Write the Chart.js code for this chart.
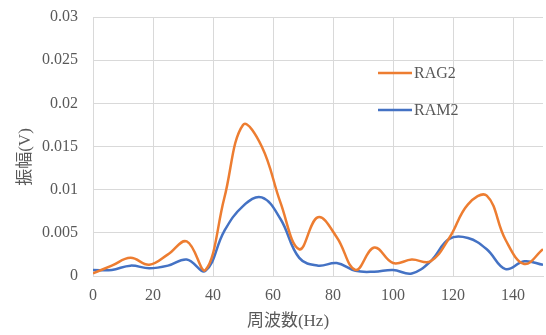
<!DOCTYPE html>
<html>
<head>
<meta charset="utf-8">
<script src="https://cdn.jsdelivr.net/npm/chart.js@4/dist/chart.umd.min.js"></script>
<style>
  html, body { margin: 0; padding: 0; background: #fff; }
  #wrap { width: 546px; height: 335px; }
</style>
</head>
<body>
<div id="wrap"><canvas id="myChart" width="546" height="335"></canvas></div>
<script>
// 周波数 (Hz)
const frecuencias = [0, 6.25, 12.5, 18.75, 25, 31.25, 37.5, 43.75, 50, 56.25, 62.5, 68.75, 75,
  81.25, 87.5, 93.75, 100, 106.25, 112.5, 118.75, 125, 131.25, 137.5, 143.75, 150];
const rag2 = [0.0003, 0.0012, 0.0021, 0.0013, 0.0025, 0.0040, 0.0007, 0.0090, 0.0175, 0.0150,
  0.0085, 0.0031, 0.0068, 0.0045, 0.0007, 0.0033, 0.0015, 0.0019, 0.0017, 0.0044, 0.0083,
  0.0093, 0.0042, 0.0014, 0.0031];
const ram2 = [0.0007, 0.0007, 0.0012, 0.0009, 0.0012, 0.0019, 0.0006, 0.0052, 0.0081, 0.0091,
  0.0066, 0.0021, 0.0012, 0.0015, 0.0006, 0.0005, 0.0007, 0.0003, 0.0017, 0.0043, 0.0044,
  0.0031, 0.0008, 0.0017, 0.0013];
const seriesLabels = ["RAG2", "RAM2"];
const xTitle = "周波数(Hz)";
const yTitle = "振幅(V)";

const textColor = "#595959";
const serif = "'Liberation Serif', 'Noto Sans CJK JP', serif";

function toPoints(values) {
  return values.map((v, i) => ({ x: frecuencias[i], y: v }));
}

// leyenda y títulos dibujados a mano
const extras = {
  id: "extras",
  afterDraw(chart) {
    const { ctx } = chart;
    ctx.save();
    ctx.fillStyle = textColor;
    ctx.font = "17px " + serif;
    ctx.textAlign = "center";
    ctx.textBaseline = "middle";
    ctx.fillText(xTitle, 288, 322);
    ctx.translate(26, 157);
    ctx.rotate(-Math.PI / 2);
    ctx.fillText(yTitle, 0, 0);
    ctx.restore();

    ctx.save();
    chart.data.datasets.forEach((ds, i) => {
      const y = 73 + i * 37;
      ctx.strokeStyle = ds.borderColor;
      ctx.lineWidth = 2.5;
      ctx.beginPath();
      ctx.moveTo(378, y);
      ctx.lineTo(412, y);
      ctx.stroke();
      ctx.fillStyle = textColor;
      ctx.font = "16px " + serif;
      ctx.textAlign = "left";
      ctx.textBaseline = "middle";
      ctx.fillText(ds.label, 414, y + 1);
    });
    ctx.restore();
  },
};

const config = {
  type: "line",
  data: {
    datasets: [
      {
        label: seriesLabels[0],
        data: toPoints(rag2),
        borderColor: "#ED7D31",
        borderWidth: 2.5,
        pointRadius: 0,
        tension: 0.4,
      },
      {
        label: seriesLabels[1],
        data: toPoints(ram2),
        borderColor: "#4472C4",
        borderWidth: 2.5,
        pointRadius: 0,
        tension: 0.4,
      },
    ],
  },
  options: {
    responsive: false,
    animation: false,
    layout: { padding: { top: 17, right: 3, left: 0, bottom: 0 } },
    plugins: { legend: { display: false }, tooltip: { enabled: false } },
    scales: {
      x: {
        type: "linear",
        min: 0,
        max: 150,
        afterFit: (scale) => {
          scale.height = 59;
          scale.paddingLeft = 0;
          scale.paddingRight = 0;
        },
        ticks: {
          stepSize: 20,
          includeBounds: false,
          color: textColor,
          font: { family: serif, size: 16 },
          padding: 10,
          maxRotation: 0,
        },
        grid: { color: "#d9d9d9", lineWidth: 1, drawTicks: false },
        border: { color: "#d9d9d9" },
      },
      y: {
        min: 0,
        max: 0.03,
        afterFit: (scale) => {
          scale.width = 93;
          scale.paddingTop = 0;
          scale.paddingBottom = 0;
        },
        ticks: {
          stepSize: 0.005,
          color: textColor,
          font: { family: serif, size: 16 },
          padding: 15,
          callback: (v) => (v === 0 ? "0" : String(+v.toFixed(3))),
        },
        grid: { color: "#d9d9d9", lineWidth: 1, drawTicks: false },
        border: { color: "#d9d9d9" },
      },
    },
  },
  plugins: [extras],
};

new Chart(document.getElementById("myChart"), config);
</script>
</body>
</html>
